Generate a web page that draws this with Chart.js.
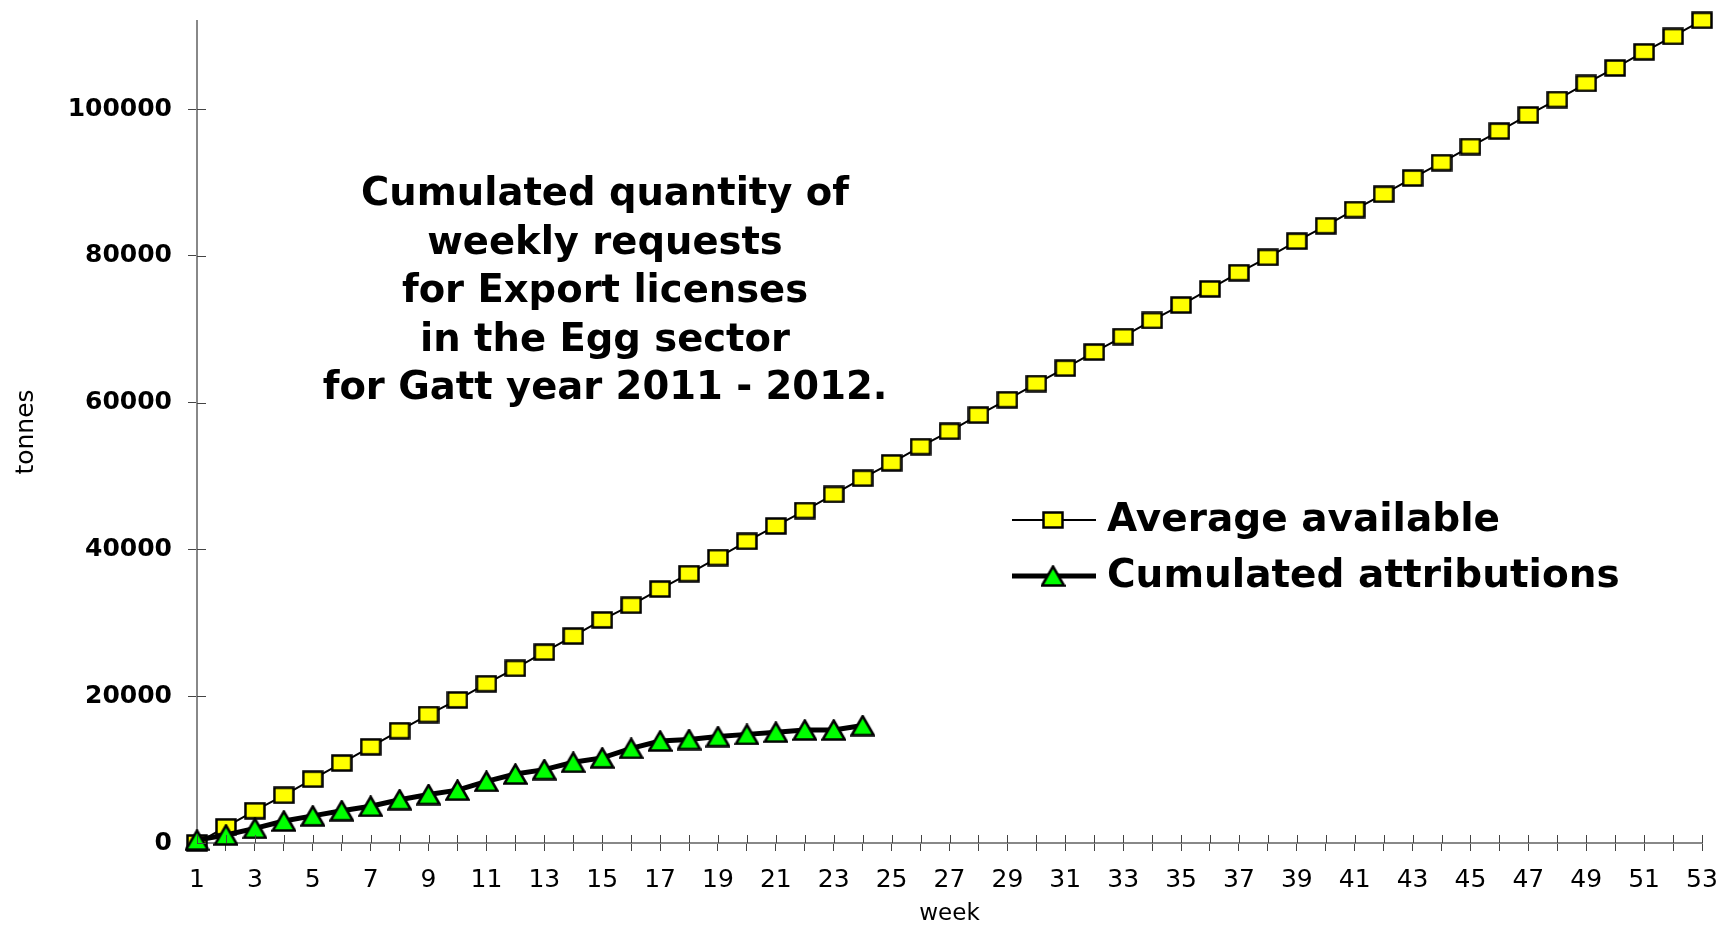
<!DOCTYPE html>
<html>
<head>
<meta charset="utf-8">
<script src="https://cdn.jsdelivr.net/npm/chart.js@4"></script>
<style>
  html, body { margin: 0; padding: 0; background: #fff; }
  #wrap { position: relative; width: 1724px; height: 926px; }
</style>
</head>
<body>
<div id="wrap"><canvas id="eggChart"></canvas></div>
<script>
// weeks of the Gatt year
const weeks = [1, 2, 3, 4, 5, 6, 7, 8, 9, 10, 11, 12, 13, 14, 15, 16, 17, 18, 19, 20,
  21, 22, 23, 24, 25, 26, 27, 28, 29, 30, 31, 32, 33, 34, 35, 36, 37, 38, 39, 40,
  41, 42, 43, 44, 45, 46, 47, 48, 49, 50, 51, 52, 53];

// tonnes
const averageAvailable = [0, 2200, 4400, 6500, 8700, 10900, 13100, 15300, 17500, 19500,
  21700, 23800, 26000, 28200, 30400, 32400, 34600, 36700, 38900, 41100,
  43200, 45300, 47500, 49700, 51800, 54000, 56100, 58300, 60400, 62600,
  64700, 66900, 69000, 71200, 73300, 75500, 77700, 79800, 82000, 84100,
  86300, 88400, 90600, 92700, 94900, 97000, 99200, 101300, 103500, 105600,
  107800, 109900, 112100];

const cumulatedAttributions = [400, 1100, 2000, 3000, 3700, 4400, 5000, 5900, 6600, 7200,
  8400, 9400, 10000, 11000, 11600, 12900, 13900, 14100, 14500, 14800,
  15100, 15400, 15400, 16000];

const seriesNames = ["Average available", "Cumulated attributions"];
const titleLines = [
  "Cumulated quantity of",
  "weekly requests",
  "for Export licenses",
  "in the Egg sector",
  "for Gatt year 2011 - 2012."
];
const yTicks = [0, 20000, 40000, 60000, 80000, 100000];

// marker images
function makeSquare() {
  const c = document.createElement("canvas");
  c.width = 22; c.height = 18;
  const g = c.getContext("2d");
  g.fillStyle = "#ffff00";
  g.strokeStyle = "#000";
  g.lineWidth = 2.5;
  g.fillRect(1.5, 1.5, 19, 15);
  g.strokeRect(1.5, 1.5, 19, 15);
  return c;
}
function makeTriangle() {
  const c = document.createElement("canvas");
  c.width = 25; c.height = 22;
  const g = c.getContext("2d");
  g.beginPath();
  g.moveTo(12.5, 1.5);
  g.lineTo(23.5, 20.5);
  g.lineTo(1.5, 20.5);
  g.closePath();
  g.fillStyle = "#00ff00";
  g.fill();
  g.lineJoin = "miter";
  g.strokeStyle = "#000";
  g.lineWidth = 2.5;
  g.stroke();
  return c;
}
const squareImg = makeSquare();
const triangleImg = makeTriangle();

// ticks crossing into the plot area
const innerTicks = {
  id: "innerTicks",
  afterDatasetsDraw(chart) {
    const { ctx, scales: { x, y }, chartArea } = chart;
    ctx.save();
    ctx.strokeStyle = "#444";
    ctx.lineWidth = 1;
    ctx.beginPath();
    x.ticks.forEach((t, i) => {
      const px = Math.round(x.getPixelForTick(i)) + 0.5;
      ctx.moveTo(px, chartArea.bottom - 8);
      ctx.lineTo(px, chartArea.bottom);
    });
    y.ticks.forEach((t, i) => {
      const py = Math.round(y.getPixelForTick(i)) + 0.5;
      ctx.moveTo(chartArea.left, py);
      ctx.lineTo(chartArea.left + 9, py);
    });
    ctx.stroke();
    ctx.restore();
  }
};

// title block and legend inside the plot
const overlay = {
  id: "overlay",
  afterDraw(chart) {
    const ctx = chart.ctx;
    ctx.save();
    ctx.fillStyle = "#000";
    ctx.font = "bold 38.5px 'DejaVu Sans'";
    ctx.textAlign = "center";
    ctx.textBaseline = "middle";
    titleLines.forEach((line, i) => {
      ctx.fillText(line, 605, 195 + i * 48.5);
    });

    ctx.font = "bold 39px 'DejaVu Sans'";
    ctx.textAlign = "left";
    chart.data.datasets.forEach((ds, i) => {
      const yy = 520 + i * 56;
      ctx.strokeStyle = "#000";
      ctx.lineWidth = ds.borderWidth;
      ctx.beginPath();
      ctx.moveTo(1012, yy);
      ctx.lineTo(1096, yy);
      ctx.stroke();
      const img = ds.pointStyle;
      ctx.drawImage(img, 1053 - img.width / 2, yy - img.height / 2);
      ctx.fillText(ds.label, 1107, yy + 1);
    });
    ctx.restore();
  }
};

new Chart(document.getElementById("eggChart"), {
  type: "line",
  data: {
    labels: weeks,
    datasets: [
      {
        label: seriesNames[0],
        data: averageAvailable,
        borderColor: "#000",
        borderWidth: 2,
        pointStyle: squareImg,
        pointRadius: 10,
        tension: 0,
        clip: false,
        order: 2
      },
      {
        label: seriesNames[1],
        data: cumulatedAttributions,
        borderColor: "#000",
        borderWidth: 5,
        pointStyle: triangleImg,
        pointRadius: 10,
        tension: 0,
        clip: false,
        order: 1
      }
    ]
  },
  options: {
    responsive: true,
    maintainAspectRatio: false,
    animation: false,
    layout: { padding: { top: 21, right: 22, left: 0, bottom: 0 } },
    plugins: {
      legend: { display: false },
      title: { display: false },
      tooltip: { enabled: false }
    },
    scales: {
      x: {
        type: "category",
        offset: false,
        grid: {
          drawOnChartArea: false,
          drawTicks: true,
          tickLength: 8,
          color: "#444"
        },
        border: { color: "#888", width: 2 },
        ticks: {
          autoSkip: false,
          maxRotation: 0,
          padding: 14,
          color: "#000",
          font: { family: "'DejaVu Sans'", size: 25 },
          callback: (v, i) => (i % 2 === 0 ? String(weeks[i]) : "")
        },
        title: {
          display: true,
          text: "week",
          color: "#000",
          font: { family: "'DejaVu Sans'", size: 23, lineHeight: 1 },
          padding: 0
        },
        afterFit: (s) => { s.height = 83; s.paddingLeft = 0; s.paddingRight = 0; }
      },
      y: {
        min: 0,
        max: 112000,
        grid: {
          drawOnChartArea: false,
          drawTicks: true,
          tickLength: 9,
          color: "#444"
        },
        border: { color: "#888", width: 2 },
        afterBuildTicks: (s) => { s.ticks = yTicks.map((v) => ({ value: v })); },
        ticks: {
          padding: 16,
          color: "#000",
          font: { family: "'DejaVu Sans'", size: 25, weight: "bold" },
          callback: (v) => String(v)
        },
        title: {
          display: true,
          text: "tonnes",
          color: "#000",
          font: { family: "'DejaVu Sans'", size: 25, lineHeight: 1 },
          padding: { top: 14, bottom: 0 }
        },
        afterFit: (s) => { s.width = 197; s.paddingTop = 0; s.paddingBottom = 0; }
      }
    }
  },
  plugins: [innerTicks, overlay]
});
</script>
</body>
</html>
